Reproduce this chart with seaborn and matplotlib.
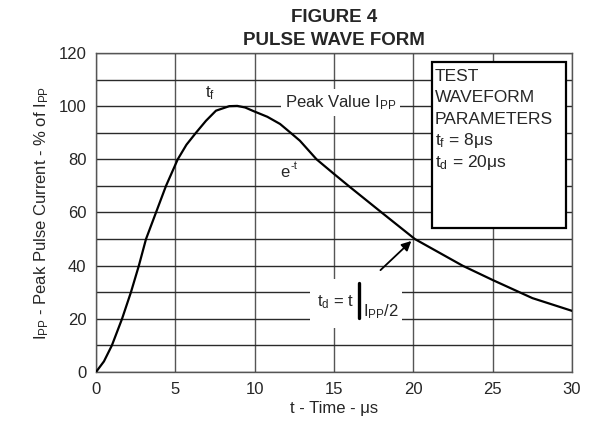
import numpy as np
import pandas as pd
import seaborn as sns
import matplotlib.pyplot as plt
from matplotlib.patches import Rectangle

# values
time_us = [0, 0.5, 1.0, 1.64, 2.2, 2.7, 3.15, 3.78, 4.41, 5.15, 5.7, 6.3, 6.93, 7.56,
           8.4, 8.9, 9.4, 9.9, 10.8, 11.6, 12.3, 12.85, 13.9, 15.0, 16.0, 18.0,
           20.1, 23.1, 25.0, 27.5, 30.0]
current_pct = [0, 4, 10, 20, 30, 40, 50, 60, 70, 80, 85.5, 90, 94.5, 98.3,
               100, 100.1, 99.5, 98.2, 96.0, 93.3, 89.8, 87.0, 80, 74.5, 69.6, 60,
               50, 40, 34.6, 27.8, 23]
x_ticks = [0, 5, 10, 15, 20, 25, 30]
y_ticks = [0, 20, 40, 60, 80, 100, 120]
box_lines = ["TEST", "WAVEFORM", "PARAMETERS",
             r"t$_\mathrm{f}$ = 8μs", r"t$_\mathrm{d}$ = 20μs"]

df = pd.DataFrame({"t": time_us, "i": current_pct})

sns.set_style("white")
plt.rcParams["font.family"] = ["Liberation Sans", "DejaVu Sans"]
plt.rcParams["mathtext.fontset"] = "custom"
plt.rcParams["mathtext.rm"] = "Liberation Sans"
plt.rcParams["mathtext.it"] = "Liberation Sans"

fs = 12

fig = plt.figure(figsize=(6.02, 4.25), dpi=100)
ax = fig.add_axes([0.1595, 0.1247, 0.7907, 0.7506])

sns.lineplot(data=df, x="t", y="i", ax=ax, color="black", lw=1.6, zorder=3)

ax.set_xlim(0, 30)
ax.set_ylim(0, 120)
ax.set_xticks(x_ticks)
ax.set_yticks(y_ticks)
ax.set_yticks(np.arange(10, 120, 20), minor=True)
ax.grid(True, which="both", axis="y", color="#2a2a2a", lw=1.0, zorder=0)
ax.grid(True, which="major", axis="x", color="#555555", lw=1.0, zorder=0)
ax.set_axisbelow(True)
ax.tick_params(axis="both", which="both", length=0, labelsize=fs, pad=7)
for s in ax.spines.values():
    s.set_color("#555555")
    s.set_linewidth(1.0)

ax.set_xlabel("t - Time - μs", fontsize=fs, labelpad=3)
ax.set_ylabel(r"I$_\mathrm{PP}$ - Peak Pulse Current - % of I$_\mathrm{PP}$",
              fontsize=fs, labelpad=5)
ax.set_title("FIGURE 4\nPULSE WAVE FORM", fontsize=13.5, fontweight="bold",
             linespacing=1.4, pad=6)

white = dict(facecolor="white", edgecolor="none", pad=3)
ax.text(7.2, 105, r"t$_\mathrm{f}$", fontsize=fs, ha="center", va="center",
        bbox=dict(facecolor="white", edgecolor="none", pad=1), zorder=4)
ax.text(15.4, 101.5, r"Peak Value I$_\mathrm{PP}$", fontsize=fs,
        ha="center", va="center", bbox=white, zorder=4)
ax.text(11.9, 75, "e", fontsize=fs, ha="center", va="center", zorder=4)
ax.text(12.25, 77.5, "-t", fontsize=8, ha="left", va="center", zorder=4)

# t_d label block
ax.add_patch(Rectangle((13.5, 16.5), 5.8, 18.5, facecolor="white",
                       edgecolor="none", zorder=2))
ax.text(13.9, 26.4, r"t$_\mathrm{d}$ = t", fontsize=fs, ha="left",
        va="center", zorder=4)
ax.plot([16.6, 16.6], [20.2, 33.3], color="black", lw=2.4, zorder=4)
ax.text(16.85, 22.7, r"I$_\mathrm{PP}$/2", fontsize=fs, ha="left",
        va="center", zorder=4)
ax.annotate("", xy=(20.0, 50.0), xytext=(17.8, 37.6),
            arrowprops=dict(arrowstyle="-|>", color="black", lw=1.3,
                            mutation_scale=14), zorder=4)

# parameter box
ax.add_patch(Rectangle((21.2, 54), 8.4, 62.5, facecolor="white",
                       edgecolor="black", lw=1.6, zorder=4))
for k, line in enumerate(box_lines):
    ax.text(21.35, 111.2 - 8.1 * k, line, fontsize=12.5, ha="left",
            va="center", zorder=5)

fig.savefig("out.png", dpi=100)
